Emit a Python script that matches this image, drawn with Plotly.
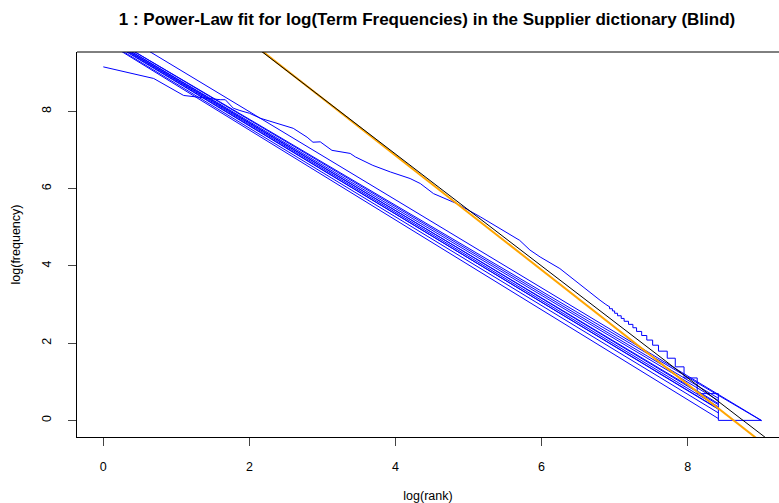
import math
import plotly.graph_objects as go

# observed curve (smooth upper part): log(rank), log(frequency)
obs_log_rank = [0.0, 0.69, 1.10, 1.23, 1.39, 1.60, 1.67, 1.78, 1.87, 2.00, 2.15, 2.28, 2.45, 2.60,
                2.79, 2.87, 2.97, 3.13, 3.38, 3.45, 3.69, 3.93, 4.20, 4.34, 4.52, 4.84, 5.16,
                5.43, 5.70, 5.84, 5.98, 6.25, 6.50, 6.80, 6.88, 6.93]
obs_log_freq = [9.15, 8.85, 8.41, 8.38, 8.36, 8.30, 8.30, 8.08, 8.02, 7.95, 7.82, 7.74, 7.65, 7.56,
                7.33, 7.20, 7.21, 6.99, 6.91, 6.82, 6.60, 6.43, 6.26, 6.13, 5.87, 5.61, 5.27,
                4.97, 4.66, 4.41, 4.23, 3.93, 3.55, 3.11, 3.00, 2.94]
# stepped tail: frequency level and log(rank) where that level ends
step_freq = [19, 18, 17, 16, 15, 14, 13, 12, 11, 10, 9, 8, 7, 6, 5, 4, 3, 2, 1]
step_end_log_rank = [6.93, 6.97, 7.00, 7.04, 7.09, 7.13, 7.19, 7.25, 7.30, 7.37, 7.44, 7.52,
                     7.60, 7.72, 7.83, 7.95, 8.13, 8.42, 9.01]

# straight blue lines: intercept at log(rank)=0, slope, end log(rank)
blue_intercept = [10.27, 10.02, 10.02, 9.98, 9.95, 9.98, 9.94, 9.90, 9.92, 9.86, 9.84]
blue_slope = [-1.14, -1.113, -1.122, -1.124, -1.13, -1.137, -1.139, -1.14, -1.144, -1.148, -1.163]
blue_end = [9.01, 9.01, 8.42, 8.42, 8.42, 8.42, 8.42, 8.42, 8.42, 8.42, 8.42]

# fitted power-law lines
black_intercept, black_slope = 12.69, -1.449
orange_intercept, orange_slope = 12.78, -1.481

sx, sy = list(obs_log_rank), list(obs_log_freq)
prev = sx[-1]
for f, e in zip(step_freq, step_end_log_rank):
    lf = math.log(f)
    sx += [prev, e]
    sy += [lf, lf]
    prev = e

fig = go.Figure()
for b0, b1, xe in zip(blue_intercept, blue_slope, blue_end):
    fig.add_trace(go.Scatter(x=[0, xe], y=[b0, b0 + b1 * xe], mode="lines",
                             line=dict(color="#0000ff", width=1), showlegend=False, hoverinfo="skip"))
fig.add_trace(go.Scatter(x=sx, y=sy, mode="lines", line=dict(color="#0000ff", width=1),
                         showlegend=False))
xl = [-1, 10]
fig.add_trace(go.Scatter(x=xl, y=[orange_intercept + orange_slope * v for v in xl], mode="lines",
                         line=dict(color="orange", width=2), showlegend=False))
fig.add_trace(go.Scatter(x=xl, y=[black_intercept + black_slope * v for v in xl], mode="lines",
                         line=dict(color="black", width=1), showlegend=False))

fig.update_layout(
    width=779, height=503,
    margin=dict(l=77, r=0, t=52, b=66),
    plot_bgcolor="white", paper_bgcolor="white",
    font=dict(family="Liberation Sans, Arial, sans-serif", size=12, color="black"),
    title=dict(text="<b>1 : Power-Law fit for log(Term Frequencies) in the Supplier dictionary (Blind)</b>",
               x=427 / 779, xanchor="center", y=1 - 19 / 503, yanchor="middle",
               font=dict(size=17)),
    xaxis=dict(range=[-0.36, 9.25], tickvals=[0, 2, 4, 6, 8], ticks="outside", ticklen=8,
               ticklabelstandoff=10,
               showgrid=False, zeroline=False, showline=True, linecolor="black",
               title=dict(text="log(rank)", standoff=19, font=dict(size=12.5)),
               tickfont=dict(size=12.5)),
    yaxis=dict(range=[-0.43, 9.535], tickvals=[0, 2, 4, 6, 8], ticks="outside", ticklen=8,
               ticklabelstandoff=12,
               showgrid=False, zeroline=False, showline=True, linecolor="black", tickangle=-90,
               title=dict(text="log(frequency)", standoff=16, font=dict(size=12.5)),
               tickfont=dict(size=12.5)),
    shapes=[dict(type="line", xref="paper", yref="paper", x0=0, x1=1, y0=1, y1=1,
                 line=dict(color="black", width=1))],
)
fig.write_html("out.html")
